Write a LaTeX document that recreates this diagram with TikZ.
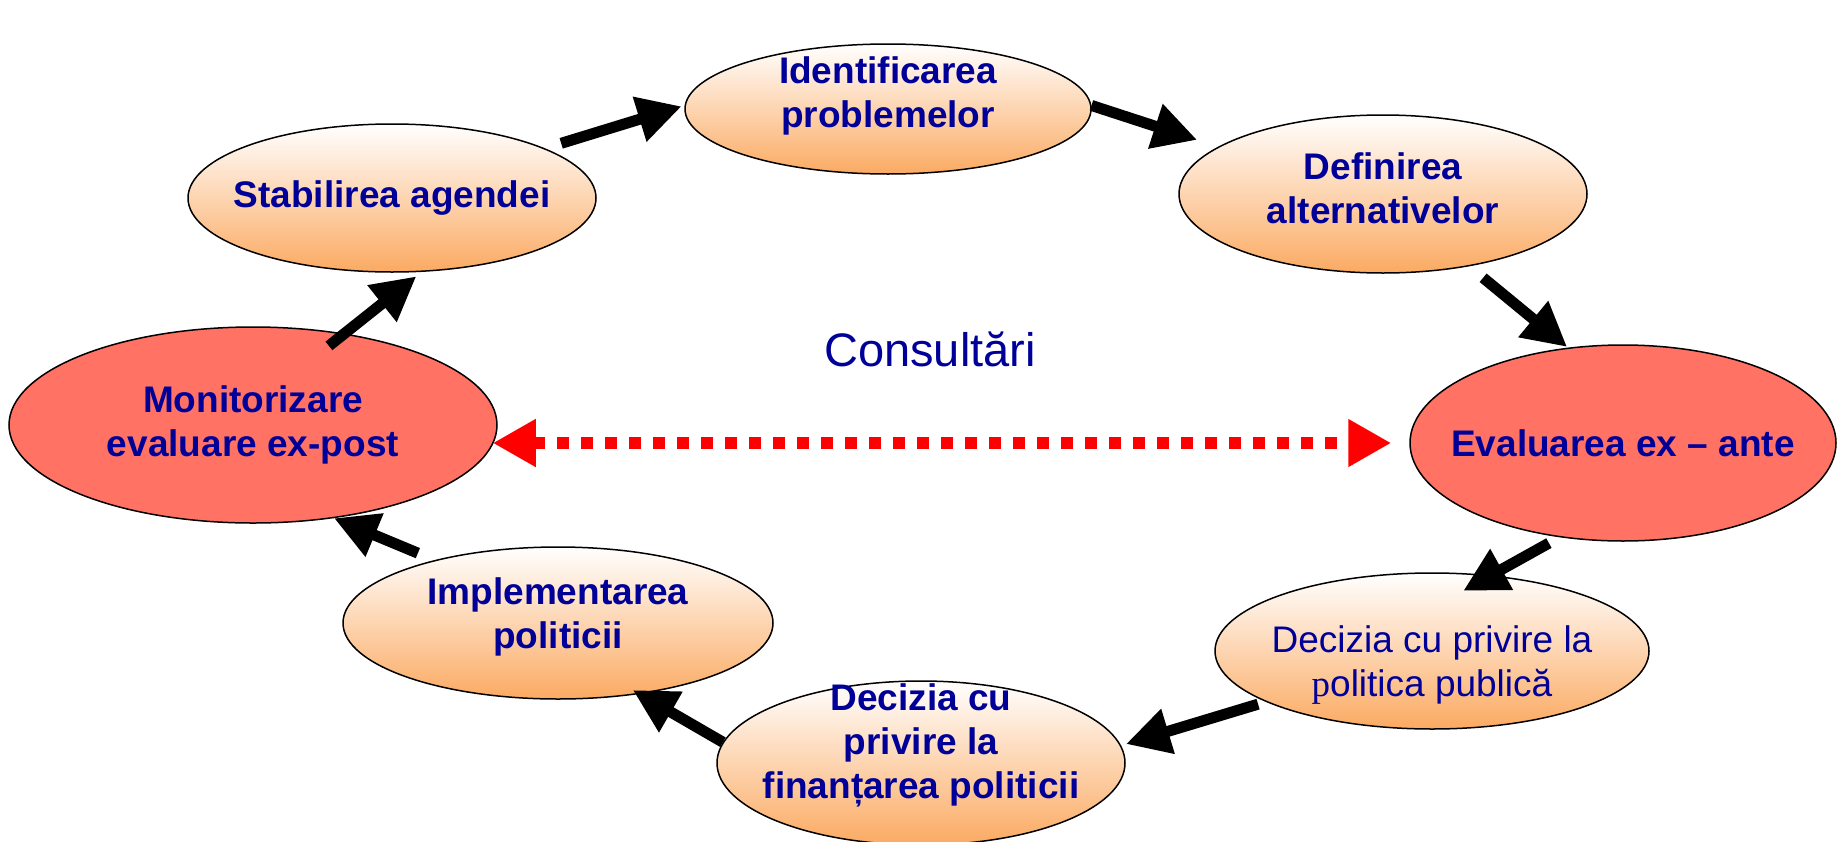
\documentclass[tikz,border=0pt]{standalone}
\usepackage{fontspec}
\setmainfont{Liberation Sans}
\newfontfamily\serifp{Liberation Serif}
\usetikzlibrary{shapes.geometric,arrows.meta}
\definecolor{txtblue}{RGB}{0,0,153}
\definecolor{peach}{RGB}{251,170,98}
\definecolor{salmon}{RGB}{255,114,100}
\def\boxfont{\fontsize{37}{44}\selectfont}

\begin{document}
\begin{tikzpicture}[x=1pt,y=-1pt,
  stagebase/.style={ellipse, draw=black, line width=1.5pt, inner sep=0pt},
  stage/.style={stagebase, top color=white, bottom color=peach},
  hotstage/.style={stagebase, fill=salmon},
  stagetext/.style={align=center, text=txtblue, inner sep=0pt, font=\boxfont\bfseries},
  flow/.style={line width=11pt, -{Triangle[length=44pt,width=44pt]}},
  consult/.style={red, line width=12pt, dash pattern=on 12pt off 12pt,
    {Triangle[length=43pt,width=45pt]}-{Triangle[length=43pt,width=45pt]}}]
  \useasboundingbox (0,0) rectangle (1845,841);
  % the cycle
  \node[stage, minimum width=408pt, minimum height=148pt] (stab) at (392,198) {};
  \node[stage, minimum width=406pt, minimum height=130pt] (ident) at (888,109) {};
  \node[stage, minimum width=408pt, minimum height=158pt] (defin) at (1383,194) {};
  \node[hotstage, minimum width=426pt, minimum height=196pt] (evante) at (1623,443) {};
  \node[stage, minimum width=434pt, minimum height=156pt] (decpub) at (1432,651) {};
  \node[stage, minimum width=408pt, minimum height=164pt] (decfin) at (921,763) {};
  \node[stage, minimum width=430pt, minimum height=152pt] (impl) at (558,623) {};
  \node[hotstage, minimum width=488pt, minimum height=196pt] (mon) at (253,425) {};
  % texts
  \node[stagetext] (stabtext) at (stab) {Stabilirea agendei};
  \node[stagetext] (identtext) at ([yshift=13pt]ident.center) {Identificarea\\problemelor};
  \node[stagetext] (defintext) at ([yshift=6pt]defin.center) {Definirea\\alternativelor};
  \node[stagetext] (evantetext) at (evante) {Evaluarea ex -- ante};
  \node[stagetext, font=\boxfont] (decpubtext) at ([yshift=-14pt]decpub.center)
    {Decizia cu privire la\\{\serifp p}olitica publică};
  \node[stagetext] (decfintext) at ([yshift=18pt]decfin.center) {Decizia cu\\privire la\\finanțarea politicii};
  \node[stagetext] (impltext) at ([yshift=6pt]impl.center) {Implementarea\\politicii};
  \node[stagetext] (montext) at (mon) {Monitorizare\\evaluare ex-post};
  % middle label
  \node[text=txtblue, font=\fontsize{47}{54}\selectfont] (cons) at (930,349) {Consultări};
  % arrows
  \draw[flow, shorten <=-20pt, shorten >=7pt] (mon.45) -- (stab.292);
  \draw[flow, shorten <=17pt, shorten >=3pt] (stab.18) -- (ident.179);
  \draw[flow, shorten >=22pt] (ident.1) -- (defin.164);
  \draw[flow, shorten <=18pt, shorten >=1pt] (defin.320) -- (evante.120);
  \draw[flow, shorten <=12pt, shorten >=-32pt] (evante.236) -- (decpub.52);
  \draw[flow, shorten <=8pt, shorten >=5pt] (decpub.197) -- (decfin.5);
  \draw[flow, shorten >=-8pt] (decfin.174) -- (impl.319);
  \draw[flow, shorten <=18pt] (impl.153) -- (mon.311);
  \draw[consult, shorten <=-5pt, shorten >=18pt] (mon.east |- evante.west) -- (evante.west);
\end{tikzpicture}
\end{document}
